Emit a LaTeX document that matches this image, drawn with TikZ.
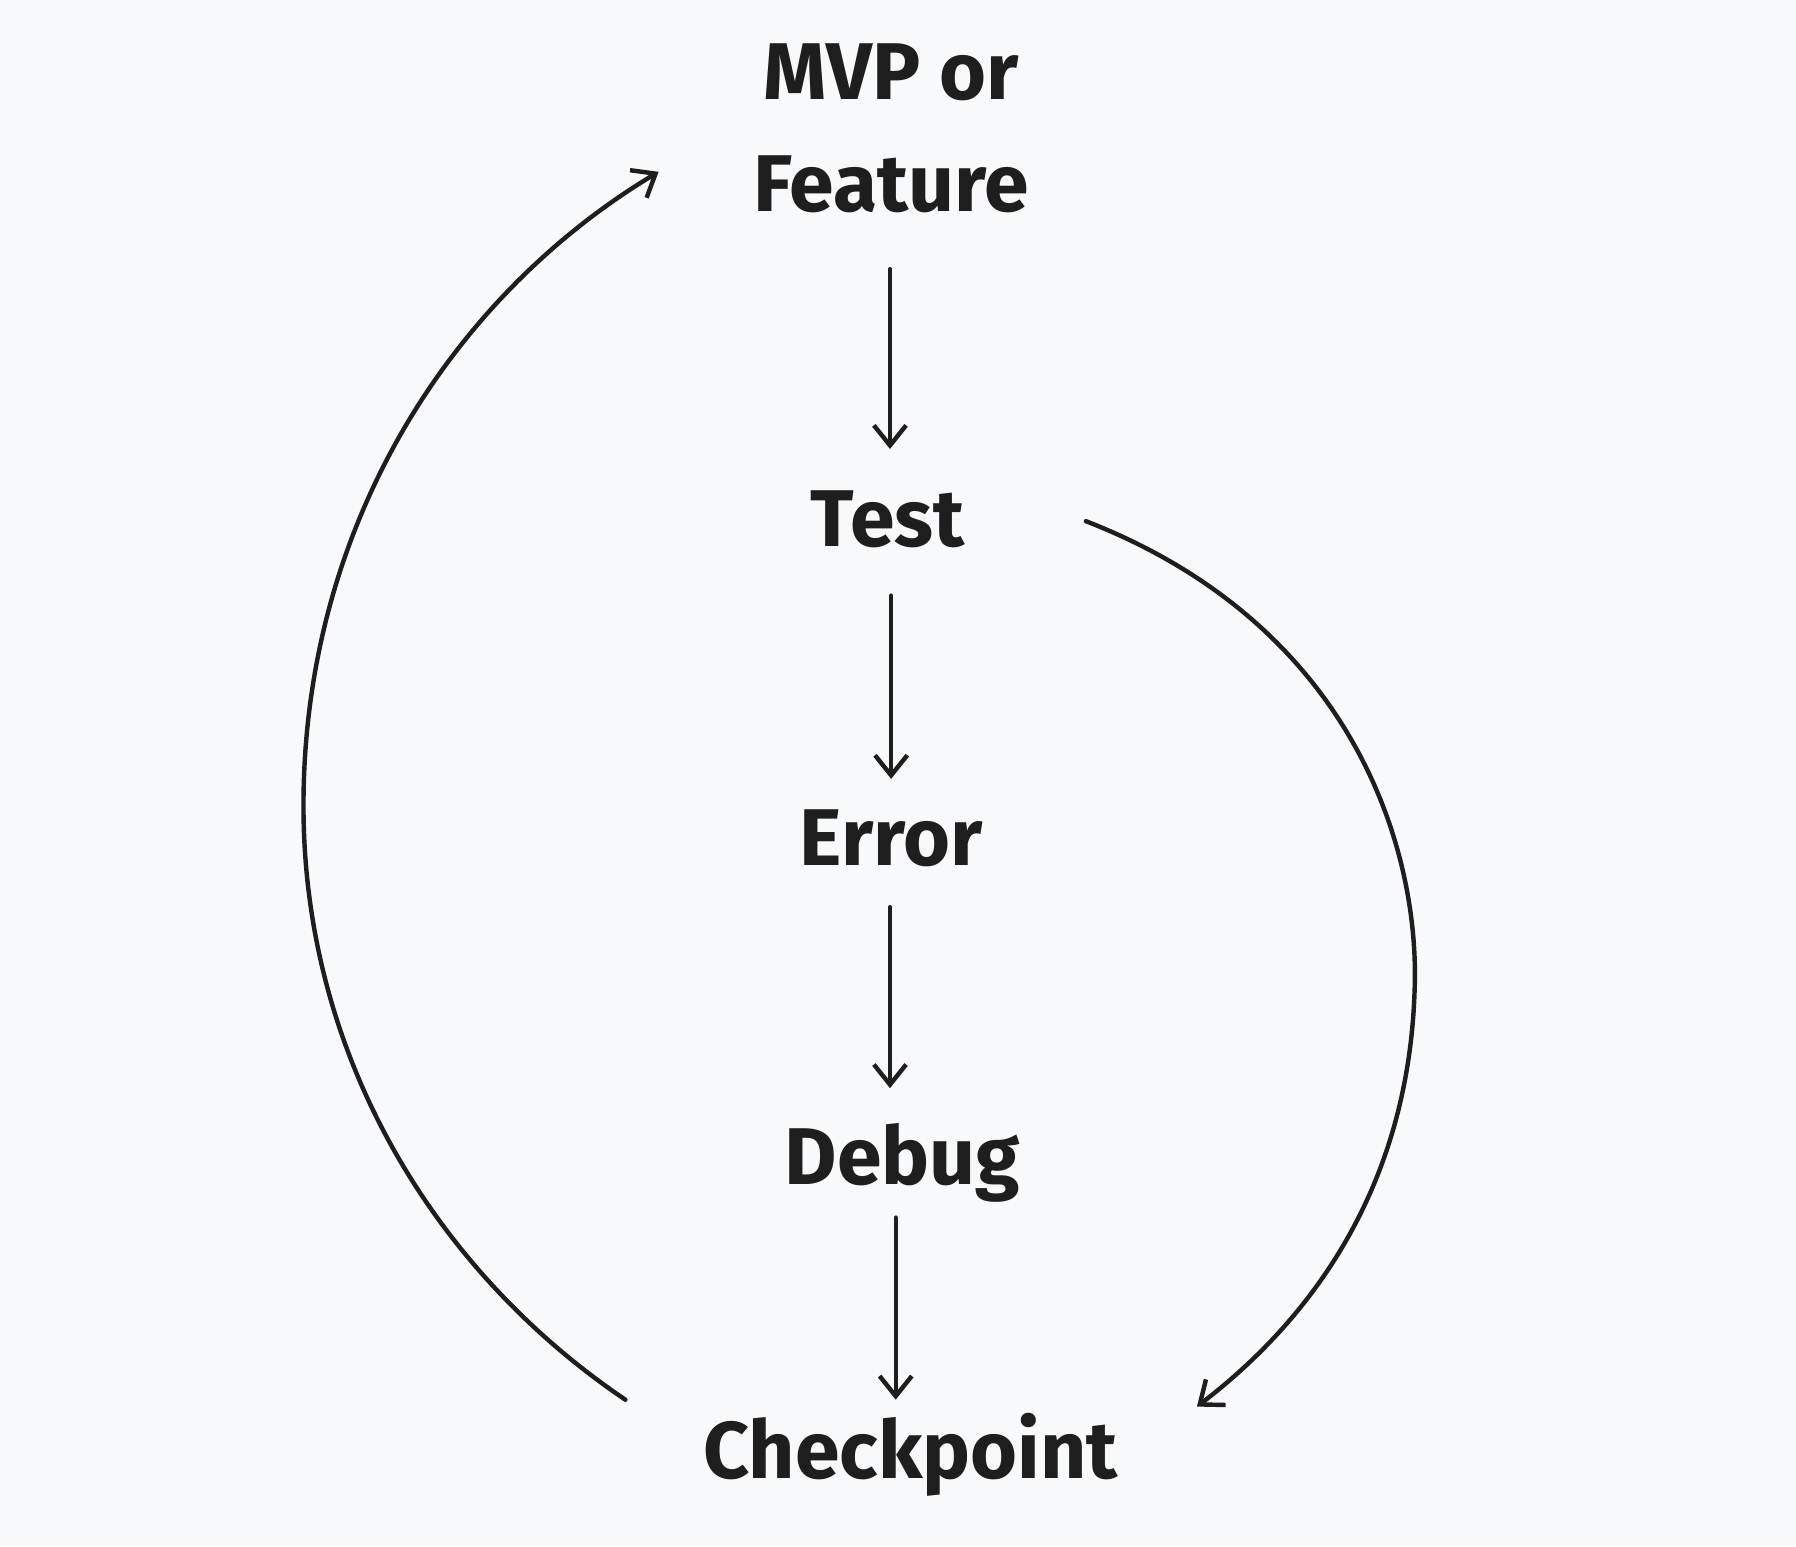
\documentclass[tikz,border=0pt]{standalone}
\usepackage{fontspec}
\setmainfont{Fira Sans}
\usetikzlibrary{arrows.meta}
\definecolor{bg}{HTML}{F8F9FB}
\definecolor{ink}{HTML}{1E1E1E}
\begin{document}
\begin{tikzpicture}[x=0.02cm,y=-0.02cm,
  lbl/.style={font=\fontsize{40}{56}\selectfont\bfseries, text=ink, align=center},
  conn/.style={draw=ink, line width=2.2pt, line cap=round, -{Straight Barb[length=10pt,width=16pt,line width=2.2pt]}}]
\fill[bg] (0,0) rectangle (1568,1350);
\node[lbl] (mvp) at (778,112) {MVP or\\Feature};
\node[lbl] (test) at (775,453) {Test};
\node[lbl] (err) at (778,732) {Error};
\node[lbl] (dbg) at (788,1015) {Debug};
\node[lbl] (chk) at (795,1270) {Checkpoint};
\coordinate (a1) at (777,235); \coordinate (a2) at (777,392);
\coordinate (b1) at (778,520); \coordinate (b2) at (778,680);
\coordinate (c1) at (777,792); \coordinate (c2) at (777,950);
\coordinate (d1) at (782,1063); \coordinate (d2) at (782,1222);
\coordinate (r1) at (948,455); \coordinate (r2) at (1045,1228);
\coordinate (l1) at (546,1222); \coordinate (l2) at (575,150);
\draw[conn] (a1) -- (a2);
\draw[conn] (b1) -- (b2);
\draw[conn] (c1) -- (c2);
\draw[conn] (d1) -- (d2);
\draw[conn] (r1) .. controls (1180,545) and (1240,740) .. (1235,865) .. controls (1230,1020) and (1160,1140) .. (r2);
\draw[conn] (l1) .. controls (380,1110) and (262,920) .. (265,695) .. controls (268,450) and (400,255) .. (l2);
\end{tikzpicture}
\end{document}
